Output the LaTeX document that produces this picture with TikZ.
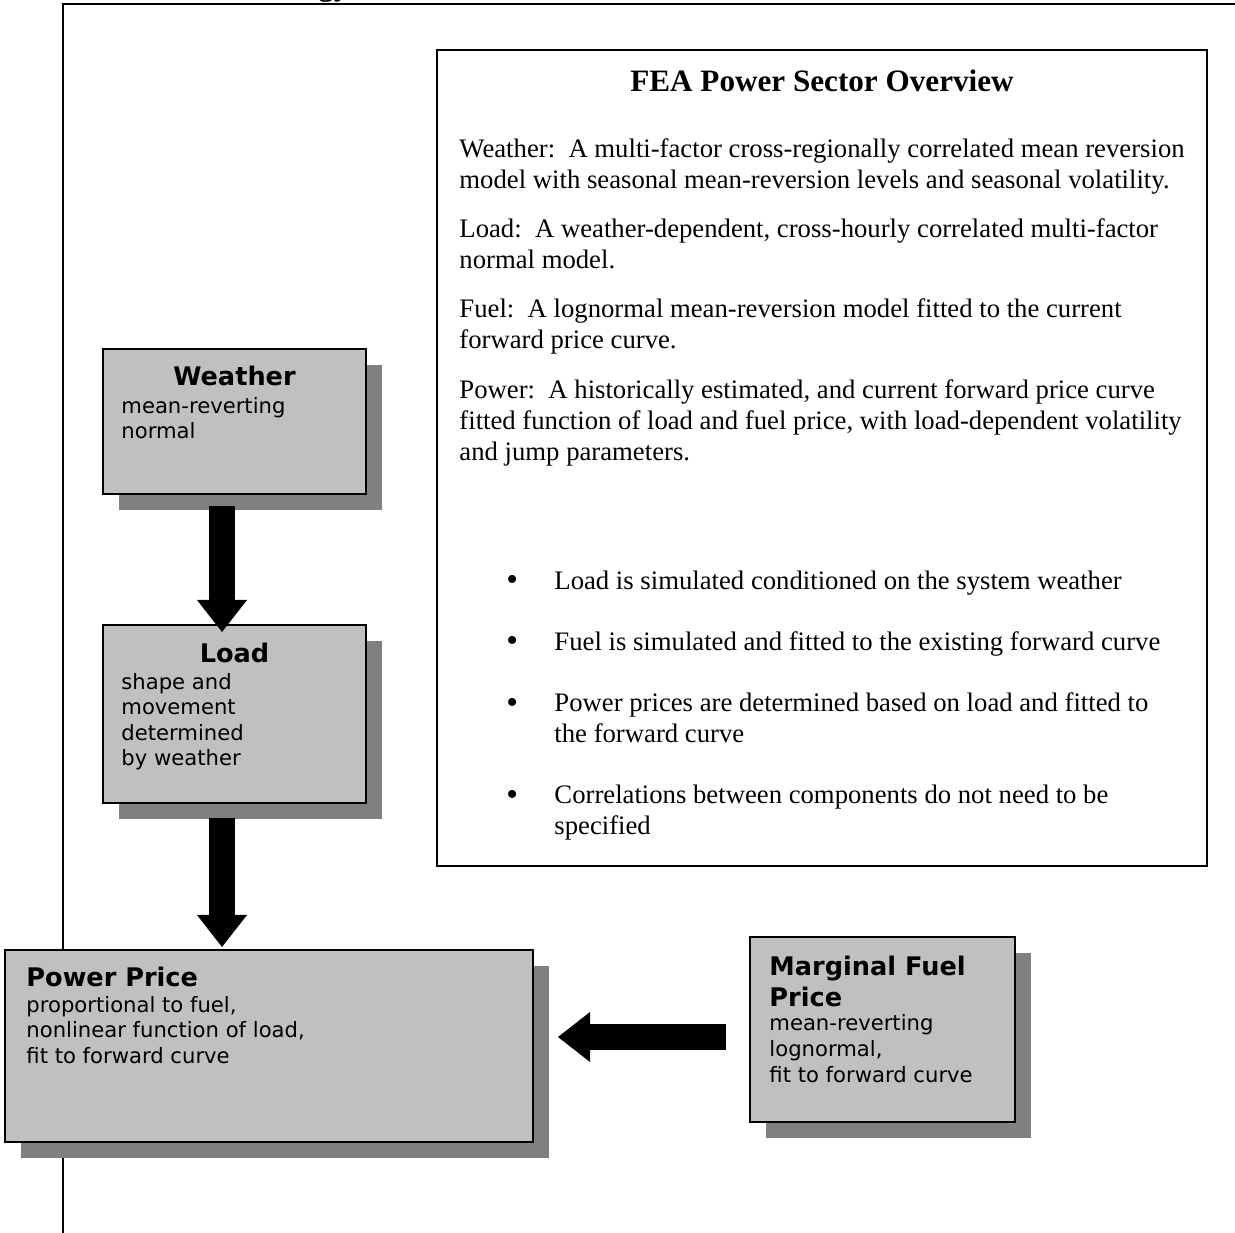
\documentclass[tikz,border=0pt]{standalone}
\usepackage{fontspec}
\setmainfont{Liberation Serif}
\newfontfamily\verdana{DejaVu Sans}
\usetikzlibrary{arrows.meta, shadows, fit, calc}

\definecolor{boxgray}{HTML}{C0C0C0}
\definecolor{shadegray}{HTML}{808080}

\tikzset{
  factorbox/.style={draw, line width=0.9pt, fill=boxgray, inner sep=0pt,
    drop shadow={shadow xshift=7.2pt, shadow yshift=-7.2pt, fill=shadegray, opacity=1}},
  boxtitle/.style={inner sep=0pt, font=\verdana\bfseries\fontsize{11.5}{13.5}\selectfont},
  boxbody/.style={anchor=base west, inner sep=0pt, align=left, font=\verdana\fontsize{9.5}{11.5}\selectfont},
  paratext/.style={anchor=base west, inner sep=0pt, align=left, font=\fontsize{12}{13.8}\selectfont},
  bulletdot/.style={anchor=base west, inner sep=0pt, font=\fontsize{15}{15}\selectfont},
  blockarrow/.style={line width=11.7pt, -{Triangle[width=22.5pt, length=14.4pt, line width=0pt]}},
}

\begin{document}
\begin{tikzpicture}[x=0.4494pt, y=-0.4494pt]
    \useasboundingbox (0,0) rectangle (1235,1233);
    %page frame
    \draw[line width=1pt] (63,1233) -- (63,4) -- (1235,4);
    \begin{scope}
      \clip (0,0) rectangle (1235,1233);
      \node[anchor=base west, inner sep=0pt, font=\bfseries\fontsize{14}{16}\selectfont] (pagehead) at (318,-4) {gy};
    \end{scope}

    %overview text box (multi-line nodes sit on their last baseline)
    \node[draw, line width=0.7pt, inner sep=0pt, fit={(437,50) (1207,866)}] (overview) {};
    \node[anchor=base, inner sep=0pt, font=\bfseries\fontsize{14}{16}\selectfont] (overviewtitle) at (822,92) {FEA Power Sector Overview};
    \node[paratext] (weatherpara) at (459,188.7) {Weather:\ \ A multi-factor cross-regionally correlated mean reversion\\model with seasonal mean-reversion levels and seasonal volatility.};
    \node[paratext] (loadpara) at (459,268.7) {Load:\ \ A weather-dependent, cross-hourly correlated multi-factor\\normal model.};
    \node[paratext] (fuelpara) at (459,348.7) {Fuel:\ \ A lognormal mean-reversion model fitted to the current\\forward price curve.};
    \node[paratext] (powerpara) at (459,460.4) {Power:\ \ A historically estimated, and current forward price curve\\fitted function of load and fuel price, with load-dependent volatility\\and jump parameters.};
    \node[bulletdot] (dot1) at (506,590) {\textbullet};
    \node[paratext] (item1) at (554,589) {Load is simulated conditioned on the system weather};
    \node[bulletdot] (dot2) at (506,651) {\textbullet};
    \node[paratext] (item2) at (554,650) {Fuel is simulated and fitted to the existing forward curve};
    \node[bulletdot] (dot3) at (506,713) {\textbullet};
    \node[paratext] (item3) at (554,742.7) {Power prices are determined based on load and fitted to\\the forward curve};
    \node[bulletdot] (dot4) at (506,805) {\textbullet};
    \node[paratext] (item4) at (554,834.7) {Correlations between components do not need to be\\specified};

    %factor boxes
    \node[factorbox, fit={(103,349) (366,494)}] (weather) {};
    \node[boxtitle, anchor=base] (weathertitle) at ($(weather.north)+(0,38)$) {Weather};
    \node[boxbody] (weathertext) at ($(weather.north west)+(19,90.6)$) {mean-reverting\\normal};

    \node[factorbox, fit={(103,625) (366,803)}] (load) {};
    \node[boxtitle, anchor=base] (loadtitle) at ($(load.north)+(0,38)$) {Load};
    \node[boxbody] (loadtext) at ($(load.north west)+(19,141.8)$) {shape and\\movement\\determined\\by weather};

    \node[factorbox, fit={(5,950) (533,1142)}] (power) {};
    \node[boxtitle, anchor=base west] (powertitle) at ($(power.north west)+(22,37)$) {Power Price};
    \node[boxbody] (powertext) at ($(power.north west)+(22,114.2)$) {proportional to fuel,\\nonlinear function of load,\\fit to forward curve};

    \node[factorbox, fit={(750,937) (1015,1122)}] (fuel) {};
    \node[boxtitle, anchor=base west, align=left] (fueltitle) at ($(fuel.north west)+(20,70)$) {Marginal Fuel\\Price};
    \node[boxbody] (fueltext) at ($(fuel.north west)+(20,146)$) {mean-reverting\\lognormal,\\fit to forward curve};

    %block arrows
    \draw[blockarrow] ($(weather.south)+(-12.5,11)$) -- ($(load.north)+(-12.5,8)$);
    \draw[blockarrow] ($(load.south)+(-12.5,14)$) -- ($(load.south |- power.north)+(-12.5,-2)$);
    \draw[blockarrow] ($(fuel.west)+(-23,7.5)$) -- ($(fuel.west -| power.east)+(24,7.5)$);
\end{tikzpicture}
\end{document}
